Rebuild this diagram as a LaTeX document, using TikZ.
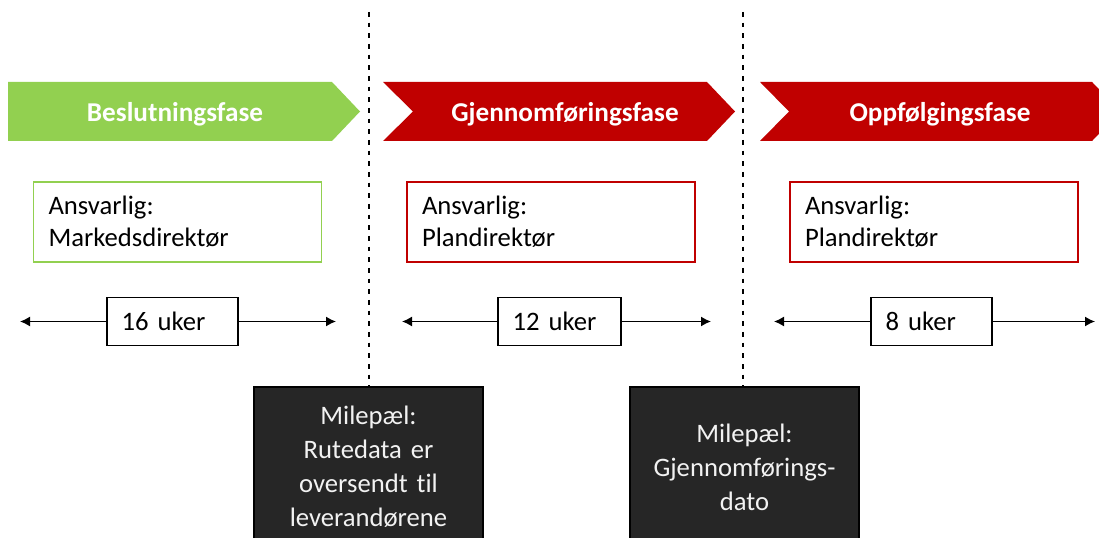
\documentclass[tikz,border=0pt]{standalone}
\usepackage{fontspec}
\setmainfont{Carlito}[Ligatures=NoCommon]
\usetikzlibrary{arrows.meta}
\definecolor{fgreen}{HTML}{92D050}
\definecolor{fred}{HTML}{C00000}
\definecolor{fdark}{HTML}{262626}
\tikzset{
  phasetext/.style={font=\fontsize{20.4}{24}\selectfont\bfseries, text=white, inner sep=0pt},
  respbox/.style={draw=#1, line width=1.1pt, fill=white, minimum width=216pt, minimum height=60pt,
    text width=193.5pt, inner xsep=11.25pt, inner ysep=0pt, align=left,
    font=\fontsize{20}{24}\selectfont, text=black},
  ukerbox/.style={draw=black, line width=1.1pt, fill=white, minimum height=36pt, inner ysep=0pt,
    inner xsep=11pt, align=left, font=\fontsize{20}{24}\selectfont, text=black},
  milebox/.style={draw=black, line width=0.8pt, fill=fdark, minimum width=171.75pt, minimum height=120pt,
    text width=160pt, inner sep=0pt, align=center, font=\fontsize{20}{25.5}\selectfont, text=white!95!black},
  durarrow/.style={line width=1.1pt, black, -{Latex[length=7.5pt,width=7.5pt]}},
  milestoneline/.style={line width=1.2pt, black, dash pattern=on 3.6pt off 4.4pt},
}
\begin{document}
\begin{tikzpicture}[x=0.75pt,y=-0.75pt]
\useasboundingbox (0,0) rectangle (1099,538);
\clip (0,0) rectangle (1099,538);
% phase chevrons
\fill[fgreen] (8,82) -- (332,82) -- (360,111.5) -- (332,141) -- (8,141) -- cycle;
\fill[fred] (383,82) -- (707,82) -- (735,111.5) -- (707,141) -- (383,141) -- (413,111.5) -- cycle;
\fill[fred] (760,82) -- (1092,82) -- (1121,111.5) -- (1092,141) -- (760,141) -- (789,111.5) -- cycle;
\node[phasetext] (p1) at (175,114) {Beslutningsfase};
\node[phasetext] (p2) at (565,114) {Gjennomføringsfase};
\node[phasetext] (p3) at (940,114) {Oppfølgingsfase};
% responsible boxes
\node[respbox=fgreen] (r1) at (177.5,222) {Ansvarlig:\\Markedsdirektør};
\node[respbox=fred] (r2) at (551,222) {Ansvarlig:\\Plandirektør};
\node[respbox=fred] (r3) at (934,222) {Ansvarlig:\\Plandirektør};
% durations
\node[ukerbox, minimum width=98.25pt, text width=76.25pt] (u1) at (172.5,321.5) {16 uker};
\node[ukerbox, minimum width=92.25pt, text width=70.25pt] (u2) at (559.5,321.5) {12 uker};
\node[ukerbox, minimum width=90.75pt, text width=68.75pt] (u3) at (931.5,321.5) {8 uker};
\coordinate (a1l) at (20,321.5);
\coordinate (a1r) at (336,321.5);
\coordinate (a2l) at (402,321.5);
\coordinate (a2r) at (711,321.5);
\coordinate (a3l) at (774,321.5);
\coordinate (a3r) at (1095,321.5);
\draw[durarrow] (u1.west) -- (a1l);
\draw[durarrow] (u1.east) -- (a1r);
\draw[durarrow] (u2.west) -- (a2l);
\draw[durarrow] (u2.east) -- (a2r);
\draw[durarrow] (u3.west) -- (a3l);
\draw[durarrow] (u3.east) -- (a3r);
% milestones
\node[milebox] (m1) at (368.5,467) {Milepæl:\\Rutedata er\\oversendt til\\leverandørene};
\node[milebox] (m2) at (744.5,467) {Milepæl:\\Gjennomførings-\\dato};
\coordinate (t1) at (369,12);
\coordinate (t2) at (743,12);
\draw[milestoneline] (t1) -- (m1.north -| t1);
\draw[milestoneline] (t2) -- (m2.north -| t2);
\end{tikzpicture}
\end{document}
